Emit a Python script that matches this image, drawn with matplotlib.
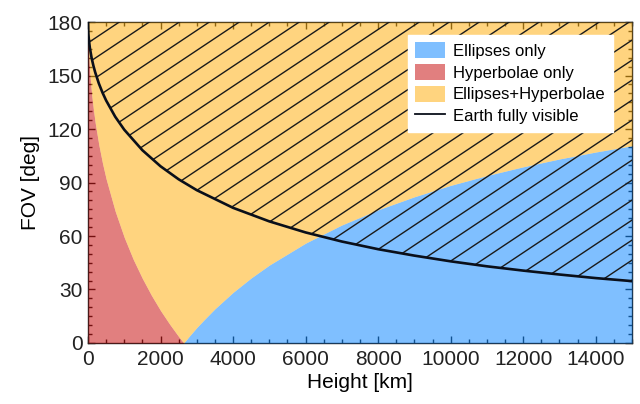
import numpy as np
import matplotlib.pyplot as plt
from matplotlib.lines import Line2D
from matplotlib.patches import Patch, Polygon
from matplotlib.ticker import MultipleLocator

plt.rcParams['font.family'] = ['Liberation Sans', 'DejaVu Sans']

# Earth fully visible: FOV [deg] vs height [km]
h_visible = [0, 10, 20, 50, 100, 150, 200, 300, 400, 500, 750, 1000, 1500, 2000, 2500,
             3000, 4000, 5000, 6000, 7000, 8000, 9000, 10000, 11000, 12000, 13000,
             14000, 15000]
fov_visible = [180, 173.6, 170.9, 165.7, 159.8, 155.4, 151.7, 145.5, 140.4, 136.0, 126.9,
               119.6, 108.1, 99.1, 91.8, 85.7, 75.8, 68.2, 62.0, 56.9, 52.6, 49.0, 45.8,
               43.0, 40.6, 38.4, 36.4, 34.7]

# upper edge of the "Hyperbolae only" region
h_hyp = [0, 10, 20, 50, 100, 150, 200, 300, 400, 500, 750, 1000, 1250, 1500, 1750,
         2000, 2250, 2500, 2640]
fov_hyp = [180, 167.2, 161.9, 151.4, 139.6, 130.8, 123.3, 111.0, 100.8, 92.0, 73.9,
           59.2, 46.8, 36.2, 26.7, 18.2, 10.6, 3.6, 0]

# upper edge of the "Ellipses only" region
h_ell = [2640, 2800, 3000, 3200, 3500, 4000, 4500, 5000, 6000, 7000, 8000, 9000,
         10000, 11000, 12000, 13000, 14000, 15000]
fov_ell = [0, 4.0, 8.7, 13.0, 19.2, 28.4, 36.5, 43.7, 56.0, 66.2, 74.7, 82.0, 88.4,
           93.9, 98.8, 103.2, 107.1, 110.6]

c_ell = '#0080ff'
c_hyp = '#c40000'
c_both = '#ffaa00'
a = 0.5

fig = plt.figure(figsize=(6.4, 4.04), dpi=100)
ax = fig.add_axes([0.1375, 0.151, 0.85, 0.7945])

# regions
ax.fill_between(h_hyp, 0, fov_hyp, color=c_hyp, alpha=a, lw=0, zorder=3)
ax.fill_between(h_ell, 0, fov_ell, color=c_ell, alpha=a, lw=0, zorder=3)
h_low = h_hyp + h_ell[1:]
fov_low = fov_hyp + fov_ell[1:]
ax.fill_between(h_low, fov_low, 180, color=c_both, alpha=a, lw=0, zorder=3)

# hatch above the visibility curve
verts = list(zip(h_visible, fov_visible)) + [(15000, 180), (0, 180)]
clip = Polygon(verts, closed=True, facecolor='none', edgecolor='none',
               transform=ax.transData)
ax.add_patch(clip)
k = 1.13      # slope in axes fraction
step = 0.0623
for y0 in np.arange(-k + 0.009 - step * 2, 1.0, step):
    ln, = ax.plot([0, 1], [y0, y0 + k], transform=ax.transAxes,
                  color='#1a1a1a', lw=1.0, zorder=4)
    ln.set_clip_path(clip)

ax.plot(h_visible, fov_visible, color='#0a0f1a', lw=1.9, zorder=5)

ax.set_xlim(0, 15000)
ax.set_ylim(0, 180)
ax.xaxis.set_major_locator(MultipleLocator(2000))
ax.xaxis.set_minor_locator(MultipleLocator(500))
ax.yaxis.set_major_locator(MultipleLocator(30))
ax.yaxis.set_minor_locator(MultipleLocator(5))
ax.tick_params(which='both', direction='in', top=True, right=True,
               labelsize=15, width=1, colors='#222222')
ax.tick_params(which='major', length=5)
ax.tick_params(which='minor', length=3)
ax.tick_params(axis='x', pad=5)
ax.tick_params(axis='y', pad=4)
for s in ax.spines.values():
    s.set_linewidth(1)
    s.set_color('#222222')

ax.set_xlabel('Height [km]', fontsize=15, labelpad=3)
ax.set_ylabel('FOV [deg]', fontsize=15, labelpad=5)

handles = [Patch(facecolor=c_ell, alpha=a, edgecolor='none'),
           Patch(facecolor=c_hyp, alpha=a, edgecolor='none'),
           Patch(facecolor=c_both, alpha=a, edgecolor='none'),
           Line2D([], [], color='#0a0f1a', lw=1.3)]
labels = ['Ellipses only', 'Hyperbolae only', 'Ellipses+Hyperbolae', 'Earth fully visible']
leg = ax.legend(handles, labels, loc='upper right', bbox_to_anchor=(0.965, 0.96),
                borderaxespad=0, fontsize=12, fancybox=False, framealpha=1,
                edgecolor='white', labelspacing=0.3, handleheight=1.1,
                handlelength=1.75, handletextpad=0.5, borderpad=0.45)
leg.set_zorder(10)

fig.savefig('out.png', dpi=100)
